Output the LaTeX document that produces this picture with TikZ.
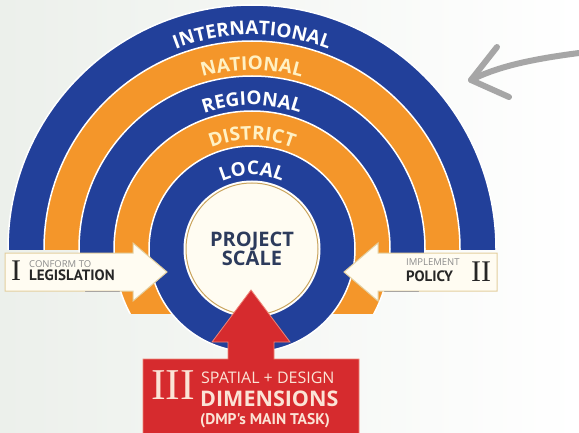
\documentclass[tikz,border=0pt]{standalone}
\usepackage{fontspec}
\setmainfont{Open Sans}
\newfontfamily\narrowfont{PT Sans}
\newfontfamily\numfont{Liberation Serif}
\newfontfamily\arcfont{Open Sans}[LetterSpace=4.0]
\usetikzlibrary{decorations.text}
\definecolor{bandblue}{HTML}{22409A}
\definecolor{bandorange}{HTML}{F4962A}
\definecolor{paletext}{HTML}{FFF1C4}
\definecolor{navytext}{HTML}{2D3B5C}
\definecolor{boxcream}{HTML}{FFFCF2}
\definecolor{boxedge}{HTML}{E3CF9F}
\definecolor{goldline}{HTML}{C9A45C}
\definecolor{taskred}{HTML}{D62B2E}
\definecolor{taskedge}{HTML}{EF8577}
\definecolor{tasktext}{HTML}{FBE4D6}
\definecolor{pencil}{HTML}{A6A6A6}
\definecolor{bgleft}{HTML}{ECF0EB}
\newcommand\bandlabel[3]{%
  \path[decorate,decoration={text along path,text align=center,text color=#2,
    text={|\arcfont\bfseries\fontsize{19}{19}\selectfont|#3}}]
    (centre) ++(165:#1) arc[start angle=165,end angle=15,radius=#1];}
\begin{document}
\begin{tikzpicture}[x=1pt,y=1pt,
    band/.style={fill=#1,draw=white,line width=1.5pt},
    arrowbox/.style={fill=boxcream,draw=boxedge,line width=1pt},
    numeral/.style={anchor=base west,inner sep=0pt,text=black!85,font=\numfont\fontsize{30}{30}\selectfont},
    smallcap/.style={anchor=base west,inner sep=0pt,text=black!45,font=\fontsize{9.5}{9.5}\selectfont},
    boldcap/.style={anchor=base west,inner sep=0pt,text=black!85,font=\narrowfont\bfseries\fontsize{15}{15}\selectfont},
    tasktxt/.style={anchor=base west,inner sep=0pt,text=tasktext},
    pencilstroke/.style={pencil,line width=6pt,line cap=round,line join=round}]
  \shade[left color=bgleft,right color=white] (0,0) rectangle (579,432);
  \useasboundingbox (0,0) rectangle (579,432);
  \coordinate (centre) at (252,183);
  \begin{scope}
    \clip (0,183) rectangle (579,432);
    \fill[band=bandblue] (centre) circle[radius=244];
    \fill[band=bandorange] (centre) circle[radius=208];
  \end{scope}
  \begin{scope}
    \clip (0,141) rectangle (579,432);
    \fill[band=bandblue] (centre) circle[radius=173];
  \end{scope}
  \begin{scope}
    \clip (0,119) rectangle (579,432);
    \fill[band=bandorange] (centre) circle[radius=138];
  \end{scope}
  \fill[band=bandblue] (centre) circle[radius=103];
  \fill[white] (centre) circle[radius=68.5];
  \bandlabel{214}{white}{INTERNATIONAL}
  \bandlabel{179}{paletext}{NATIONAL}
  \bandlabel{144}{white}{REGIONAL}
  \bandlabel{109}{paletext}{DISTRICT}
  \bandlabel{74}{white}{LOCAL}
  \node[circle,minimum size=132pt,inner sep=0pt,fill=boxcream,draw=goldline,line width=1pt,
    align=center,text=navytext,font=\bfseries\fontsize{20}{17}\selectfont] (project) at (centre) {PROJECT\\SCALE};
  \fill[arrowbox] (5,141) -- (133,141) -- (133,131) -- (167,160) -- (133,189) -- (133,179) -- (5,179) -- cycle;
  \node[numeral] (legnum) at (11,152) {I};
  \node[smallcap] (conform) at (29,165) {CONFORM TO};
  \node[boldcap] (legislation) at (29,152) {LEGISLATION};
  \fill[arrowbox] (497,141) -- (378,141) -- (378,131) -- (344,160) -- (378,189) -- (378,179) -- (497,179) -- cycle;
  \node[smallcap] (implement) at (406,167) {IMPLEMENT};
  \node[boldcap] (policy) at (406,151) {POLICY};
  \node[numeral] (polnum) at (471,151) {II};
  \fill[taskred,draw=taskedge,line width=0.8pt] (143,-2) -- (143,73) -- (228,73) -- (228,90) -- (212,90) -- (251,142)
    -- (290,90) -- (274,90) -- (274,73) -- (359,73) -- (359,-2) -- cycle;
  \node[numeral,text=tasktext,font=\numfont\fontsize{44}{44}\selectfont] (tasknum) at (151,33) {III};
  \node[tasktxt,font=\fontsize{16}{16}\selectfont] (spatial) at (201,49) {SPATIAL + DESIGN};
  \node[tasktxt,font=\bfseries\fontsize{21.5}{21.5}\selectfont] (dimensions) at (200,26) {DIMENSIONS};
  \node[tasktxt,font=\narrowfont\bfseries\fontsize{15.5}{15.5}\selectfont] (maintask) at (200,8) {(DMP's MAIN TASK)};
  \coordinate (pentail) at (579,379);
  \coordinate (pentip) at (471,352);
  \coordinate (penup) at (497,385);
  \coordinate (pendown) at (509,335);
  \draw[pencilstroke] (pentail) .. controls (525,372) and (495,364) .. (pentip);
  \draw[pencilstroke] (penup) -- (pentip) -- (pendown);
\end{tikzpicture}
\end{document}
